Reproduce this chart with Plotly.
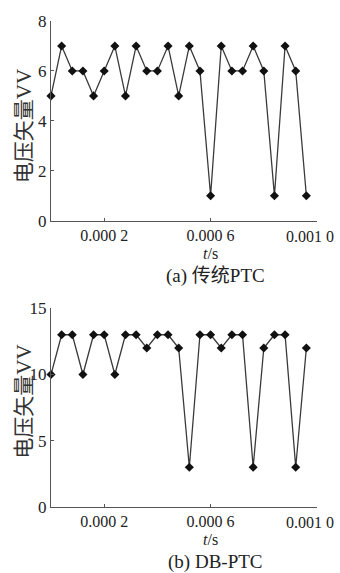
import plotly.graph_objects as go

t_vals = [i * 0.00004 for i in range(25)]
vv_ptc = [5, 7, 6, 6, 5, 6, 7, 5, 7, 6, 6, 7, 5, 7, 6, 1, 7, 6, 6, 7, 6, 1, 7, 6, 1]
vv_dbptc = [10, 13, 13, 10, 13, 13, 10, 13, 13, 12, 13, 13, 12, 3, 13, 13, 12, 13, 13, 3, 12, 13, 13, 3, 12]
x_tickvals = [0.0002, 0.0006, 0.0010]
x_ticktext = ["0.000 2", "0.000 6", ""]
last_tick_label = "0.001 0"
y1_ticks = [0, 2, 4, 6, 8]
y2_ticks = [0, 5, 10, 15]
y_title = "电压矢量VV"
x_title = "<i>t</i>/s"
captions = ["(a) 传统PTC", "(b) DB-PTC"]

FONT = "Liberation Serif, Noto Sans CJK SC, serif"
LINE_C = "#3a3a3a"
AX_C = "#555555"

fig = go.Figure()
for vals, xa, ya in [(vv_ptc, "x", "y"), (vv_dbptc, "x2", "y2")]:
    fig.add_trace(go.Scatter(
        x=t_vals, y=vals, xaxis=xa, yaxis=ya, mode="lines+markers",
        line=dict(color=LINE_C, width=1.3),
        marker=dict(symbol="diamond", size=7, color="#111111"),
        showlegend=False, cliponaxis=False, hoverinfo="skip",
    ))

L, R, T, B = 51, 23, 13, 66
W, H = 340, 573
ph = H - T - B
pw = W - L - R

def py(p):
    return (H - B - p) / ph

def px(p):
    return (p - L) / pw

xcommon = dict(range=[0, 0.001], tickvals=x_tickvals, ticktext=x_ticktext,
               ticks="inside", ticklen=3, tickcolor=AX_C, showline=True,
               linecolor=AX_C, linewidth=1.2, showgrid=False, zeroline=False,
               tickfont=dict(family=FONT, size=16, color="#222"))
ycommon = dict(ticks="inside", ticklen=3, tickcolor=AX_C, showline=True,
               linecolor=AX_C, linewidth=1.2, showgrid=False, zeroline=False,
               tickfont=dict(family=FONT, size=17, color="#222"))

fig.update_layout(
    width=W, height=H, margin=dict(l=L, r=R, t=T, b=B),
    paper_bgcolor="white", plot_bgcolor="white",
    xaxis=dict(domain=[0, 1], anchor="y", **xcommon),
    yaxis=dict(domain=[py(216), 1], anchor="x", range=[0, 8], tickvals=y1_ticks, **ycommon),
    xaxis2=dict(domain=[0, 1], anchor="y2", **xcommon),
    yaxis2=dict(domain=[0, py(305)], anchor="x2", range=[0, 15], tickvals=y2_ticks, **ycommon),
)

ann = []
for ycen in [120, 400]:
    ann.append(dict(text=y_title, x=px(24), y=py(ycen), xref="paper", yref="paper",
                    textangle=-90, showarrow=False, xanchor="center", yanchor="middle",
                    font=dict(family=FONT, size=21, color="#333")))
for axy, ts, cap, cy, xr in [(216, 249, captions[0], 272, "x"), (507, 540, captions[1], 563, "x2")]:
    # last x tick label, nudged left so it stays inside the page like the reference
    ann.append(dict(text=last_tick_label, x=x_tickvals[-1], y=py(axy), xref=xr, yref="paper",
                    showarrow=False, xanchor="center", yanchor="top", xshift=-7, yshift=-5,
                    font=dict(family=FONT, size=16, color="#222")))
    ann.append(dict(text=x_title, x=px(210), y=py(ts), xref="paper", yref="paper",
                    showarrow=False, xanchor="center", yanchor="middle", borderpad=0,
                    font=dict(family=FONT, size=16, color="#222")))
    ann.append(dict(text=cap, x=px(215), y=py(cy), xref="paper", yref="paper",
                    showarrow=False, xanchor="center", yanchor="middle", borderpad=0,
                    font=dict(family=FONT, size=19, color="#222")))
fig.update_layout(annotations=ann)

fig.write_html("out.html", config={"displayModeBar": False},
               post_script="document.body.style.margin='0';document.body.style.overflow='hidden';")
